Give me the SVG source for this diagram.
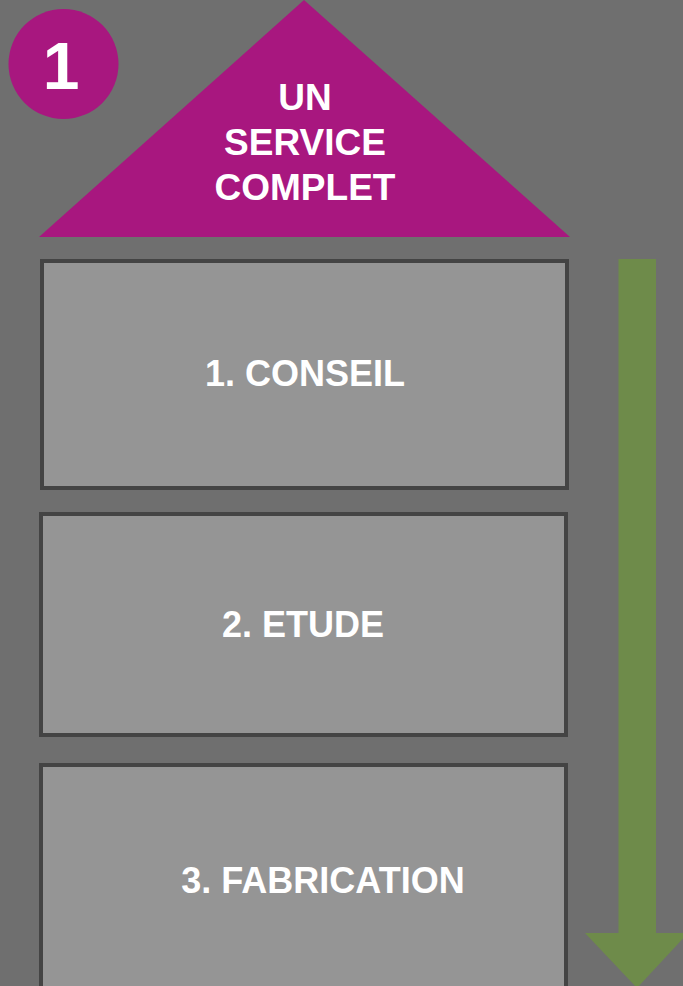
<svg xmlns="http://www.w3.org/2000/svg" width="683" height="986" viewBox="0 0 683 986">
<style>
.box{fill:#959595;stroke:#444444;stroke-width:4}
.lbl{font-family:"Liberation Sans",Arial,sans-serif;font-weight:bold;fill:#ffffff;text-anchor:middle}
</style>
<rect x="0" y="0" width="683" height="986" fill="#6f6f6f"/>
<g id="badge">
<circle cx="63.5" cy="64" r="55" fill="#a8177f"/>
<text class="lbl" x="61" y="89" font-size="66">1</text>
</g>
<g id="roof">
<polygon points="304,0 570,237 39,237" fill="#a8177f"/>
<text class="lbl" font-size="37"><tspan x="305" y="110">UN</tspan><tspan x="305" y="155">SERVICE</tspan><tspan x="305" y="200">COMPLET</tspan></text>
</g>
<g id="conseil">
<rect class="box" x="42" y="261" width="525" height="227"/>
<text class="lbl" x="305" y="386" font-size="36">1. CONSEIL</text>
</g>
<g id="etude">
<rect class="box" x="41" y="514" width="525" height="221"/>
<text class="lbl" x="303" y="637" font-size="36">2. ETUDE</text>
</g>
<g id="fabrication">
<rect class="box" x="41" y="765" width="525" height="240"/>
<text class="lbl" x="323" y="893" font-size="36">3. FABRICATION</text>
</g>
<g id="connectors">
<polygon points="618.5,259 656,259 656,933 688,933 637,988 585,933 618.5,933" fill="#6e8b4a"/>
</g>
</svg>
